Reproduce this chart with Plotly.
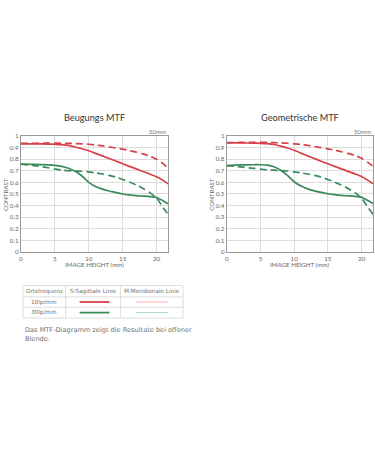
import plotly.graph_objects as go

# ---- data ----
x_pos = [0, 2, 4, 5, 6, 7, 8, 9, 10, 11, 12, 13, 14, 15, 16, 17, 18, 19, 20, 21, 21.7]

# Beugungs MTF
b_10_s = [0.932, 0.932, 0.930, 0.928, 0.925, 0.918, 0.905, 0.890, 0.872, 0.850, 0.828, 0.806, 0.784, 0.760, 0.738, 0.716, 0.694, 0.672, 0.648, 0.615, 0.588]
b_10_m = [0.935, 0.937, 0.938, 0.938, 0.937, 0.936, 0.934, 0.932, 0.928, 0.922, 0.914, 0.905, 0.896, 0.886, 0.874, 0.860, 0.845, 0.826, 0.800, 0.760, 0.722]
b_30_s = [0.758, 0.755, 0.750, 0.746, 0.738, 0.722, 0.695, 0.655, 0.600, 0.565, 0.542, 0.526, 0.513, 0.500, 0.492, 0.486, 0.482, 0.478, 0.470, 0.440, 0.416]
b_30_m = [0.758, 0.745, 0.726, 0.715, 0.705, 0.700, 0.698, 0.696, 0.690, 0.682, 0.672, 0.660, 0.645, 0.625, 0.603, 0.577, 0.548, 0.512, 0.465, 0.380, 0.326]

# Geometrische MTF
g_10_s = [0.940, 0.940, 0.938, 0.936, 0.933, 0.926, 0.912, 0.896, 0.876, 0.852, 0.828, 0.805, 0.782, 0.760, 0.738, 0.716, 0.695, 0.673, 0.650, 0.615, 0.588]
g_10_m = [0.943, 0.944, 0.945, 0.945, 0.944, 0.942, 0.940, 0.937, 0.932, 0.926, 0.918, 0.909, 0.899, 0.889, 0.877, 0.864, 0.850, 0.832, 0.808, 0.770, 0.738]
g_30_s = [0.745, 0.750, 0.752, 0.752, 0.748, 0.735, 0.705, 0.660, 0.605, 0.568, 0.544, 0.527, 0.514, 0.502, 0.494, 0.488, 0.484, 0.480, 0.472, 0.442, 0.418]
g_30_m = [0.745, 0.733, 0.720, 0.714, 0.708, 0.705, 0.702, 0.698, 0.690, 0.682, 0.672, 0.660, 0.645, 0.625, 0.603, 0.577, 0.548, 0.512, 0.465, 0.380, 0.326]

x_ticks = [0, 5, 10, 15, 20]
y_ticks = [0, 0.1, 0.2, 0.3, 0.4, 0.5, 0.6, 0.7, 0.8, 0.9, 1]
y_tick_labels = ["0", "0.1", "0.2", "0.3", "0.4", "0.5", "0.6", "0.7", "0.8", "0.9", "1"]

titles = ["Beugungs MTF", "Geometrische MTF"]
focal = "50mm"
x_title = "IMAGE HEIGHT (mm)"
y_title = "CONTRAST"

table_header = ["Ortsfrequenz", "S:Sagittale Linie", "M:Meridionale Linie"]
table_rows = ["10lp/mm", "30lp/mm"]
note_lines = ["Das MTF-Diagramm zeigt die Resultate bei offener", "Blende."]

RED = "#d8404a"
GREEN = "#3a8a5a"
W, H = 375, 450

fig = go.Figure()

def add_chart(xa, ya, s10, m10, s30, m30):
    for y, col, dash in [(m10, RED, "dash"), (s10, RED, "solid"), (m30, GREEN, "dash"), (s30, GREEN, "solid")]:
        fig.add_trace(go.Scatter(x=x_pos, y=y, mode="lines", xaxis=xa, yaxis=ya,
                                 line=dict(color=col, width=1.7, dash="7px,4px" if dash == "dash" else "solid", shape="spline", smoothing=0.6),
                                 showlegend=False, hoverinfo="skip"))

add_chart("x", "y", b_10_s, b_10_m, b_30_s, b_30_m)
add_chart("x2", "y2", g_10_s, g_10_m, g_30_s, g_30_m)

def px_x(p):
    return p / W

def px_y(p):
    return 1 - p / H

ydom = [px_y(252), px_y(134)]
dom1 = [px_x(19), px_x(167)]
dom2 = [px_x(226), px_x(373)]

axis_common = dict(showgrid=True, gridcolor="#dcdcdc", gridwidth=1, zeroline=False,
                   showline=True, linecolor="#9a9a9a", linewidth=1, mirror=True,
                   tickfont=dict(family="Lato, Roboto, sans-serif", size=6.3, color="#666"),
                   ticks="", fixedrange=True)

fig.update_layout(
    width=W, height=H, margin=dict(l=0, r=0, t=0, b=0),
    paper_bgcolor="white", plot_bgcolor="white",
    xaxis=dict(domain=dom1, range=[0, 21.7], tickvals=x_ticks, anchor="y", **axis_common),
    yaxis=dict(domain=ydom, range=[0, 1], tickvals=y_ticks, ticktext=y_tick_labels, anchor="x", **axis_common),
    xaxis2=dict(domain=dom2, range=[0, 21.7], tickvals=x_ticks, anchor="y2", **axis_common),
    yaxis2=dict(domain=ydom, range=[0, 1], tickvals=y_ticks, ticktext=y_tick_labels, anchor="x2", **axis_common),
)

ann = []
font_chart = "Lato, Roboto, sans-serif"

def A(x, y, text, size, color, xanchor="center", font=font_chart, angle=0):
    ann.append(dict(x=x, y=y, xref="paper", yref="paper", text=text, showarrow=False,
                    xanchor=xanchor, yanchor="middle", textangle=angle,
                    font=dict(family=font, size=size, color=color)))

for dom, t, ylab_x in [(dom1, titles[0], 4), (dom2, titles[1], 211)]:
    cx = (dom[0] + dom[1]) / 2
    A(cx, px_y(115), t, 9.2, "#333")
    A(dom[1], px_y(130), focal, 6, "#777", xanchor="right")
    A(cx, px_y(265), x_title, 6.2, "#666")
    A(px_x(ylab_x), (ydom[0] + ydom[1]) / 2, y_title, 6.2, "#666", angle=-90)

# table
font_tab = "DejaVu Sans, Verdana, sans-serif"
col_x = [21, 64, 119, 182]
row_y = [286, 297.5, 308, 319]
shapes = []
bc = "#dddddd"
for yy in row_y:
    shapes.append(dict(type="line", xref="paper", yref="paper", x0=px_x(col_x[0]), x1=px_x(col_x[-1]), y0=px_y(yy), y1=px_y(yy), line=dict(color=bc, width=1)))
for xx in col_x:
    shapes.append(dict(type="line", xref="paper", yref="paper", x0=px_x(xx), x1=px_x(xx), y0=px_y(row_y[0]), y1=px_y(row_y[-1]), line=dict(color=bc, width=1)))

TXT = "#707070"
for i, h in enumerate(table_header):
    A(px_x((col_x[i] + col_x[i + 1]) / 2), px_y((row_y[0] + row_y[1]) / 2), h, 5.7, TXT, font=font_tab)
for r, (lab, col) in enumerate(zip(table_rows, [RED, GREEN])):
    yc = (row_y[r + 1] + row_y[r + 2]) / 2
    A(px_x((col_x[0] + col_x[1]) / 2), px_y(yc), lab, 5.7, TXT, font=font_tab)
    shapes.append(dict(type="line", xref="paper", yref="paper", x0=px_x(78), x1=px_x(108), y0=px_y(yc), y1=px_y(yc), line=dict(color=col, width=1.8)))
    shapes.append(dict(type="line", xref="paper", yref="paper", x0=px_x(135), x1=px_x(167), y0=px_y(yc), y1=px_y(yc), line=dict(color=col, width=0.8, dash="1px,1px")))

for k, line in enumerate(note_lines):
    A(px_x(21), px_y(331.5 + 8.5 * k), line, 6.6, TXT, xanchor="left", font=font_tab)

fig.update_layout(annotations=ann, shapes=shapes)
fig.write_html("out.html", config={"displayModeBar": False}, post_script="document.body.style.margin='0';")
